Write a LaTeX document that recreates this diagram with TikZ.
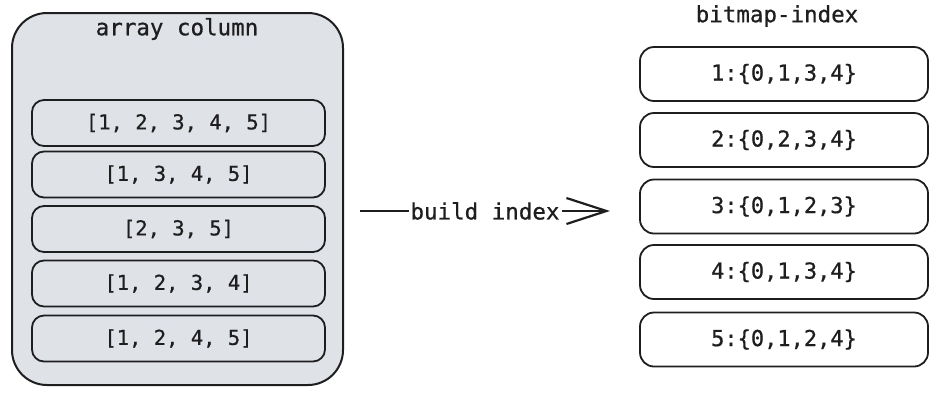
\documentclass[tikz,border=0pt]{standalone}
\usepackage{fontspec}
\setmonofont{DejaVu Sans Mono}[FakeBold=0.7]
\usetikzlibrary{arrows.meta}
\definecolor{ink}{HTML}{1E1E1E}
\definecolor{panel}{HTML}{DFE2E7}
\tikzset{
  every node/.style={font=\ttfamily, text=ink},
  outerbox/.style={draw=ink, line width=2pt, fill=panel, rounded corners=35pt, minimum width=331pt, minimum height=372pt, inner sep=0pt},
  arrbox/.style={draw=ink, line width=1.8pt, rounded corners=12pt, minimum width=293pt, minimum height=46pt, inner sep=0pt, font=\ttfamily\fontsize{20.5}{24}\selectfont},
  bmbox/.style={draw=ink, line width=1.8pt, fill=white, rounded corners=14pt, minimum width=288pt, minimum height=54pt, inner sep=0pt, font=\ttfamily\fontsize{22}{26}\selectfont},
  titletext/.style={font=\ttfamily\fontsize{22.5}{26}\selectfont},
  flow/.style={draw=ink, line width=2.2pt, -{Straight Barb[length=40pt,width=26pt,line width=2.2pt]}}
}
\begin{document}
\begin{tikzpicture}[x=1pt,y=-1pt]
\useasboundingbox (0,0) rectangle (939,392);
\node[outerbox] (outer) at (177.5,199) {};
\node[titletext] (t1) at (177,29) {array column};
\node[arrbox] (a1) at (178.5,123) {[1, 2, 3, 4, 5]};
\node[arrbox] (a2) at (178.5,174.5) {[1, 3, 4, 5]};
\node[arrbox] (a3) at (178.5,229) {[2, 3, 5]};
\node[arrbox] (a4) at (178.5,283.5) {[1, 2, 3, 4]};
\node[arrbox] (a5) at (178.5,338.5) {[1, 2, 4, 5]};
\node[titletext] (t2) at (777,16) {bitmap-index};
\node[bmbox] (b1) at (784,74) {1:\{0,1,3,4\}};
\node[bmbox] (b2) at (784,140) {2:\{0,2,3,4\}};
\node[bmbox] (b3) at (784,206.5) {3:\{0,1,2,3\}};
\node[bmbox] (b4) at (784,272) {4:\{0,1,3,4\}};
\node[bmbox] (b5) at (784,339.5) {5:\{0,1,2,4\}};
\coordinate (s) at (360,211);
\coordinate (e) at (610,211);
\draw[flow] (s) -- node[fill=white, inner sep=2pt, titletext] (lbl) {build index} (e);
\end{tikzpicture}
\end{document}
